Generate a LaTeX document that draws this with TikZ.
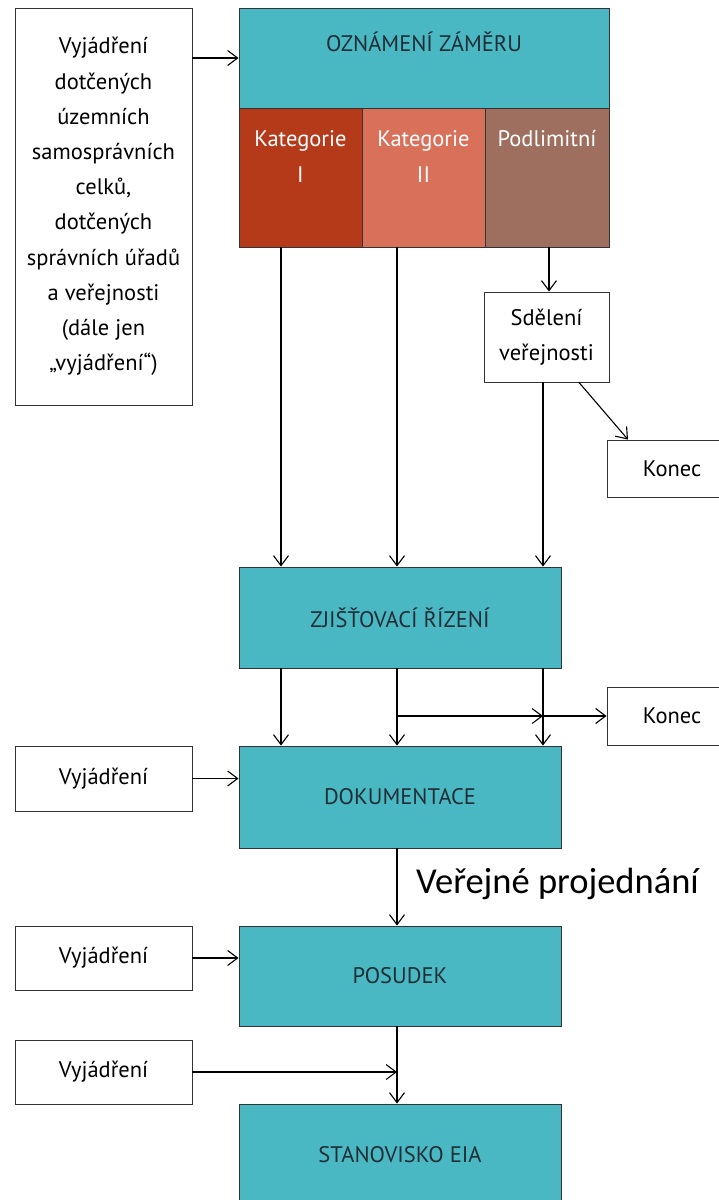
\documentclass[tikz,border=0pt]{standalone}
\usepackage{fontspec}
\setmainfont{PT Sans}
\newfontfamily\calibrifont{Carlito}
\usetikzlibrary{arrows.meta}

\definecolor{eiateal}{HTML}{4AB8C3}
\definecolor{katI}{HTML}{B43A1A}
\definecolor{katII}{HTML}{D8705A}
\definecolor{katIII}{HTML}{9E6F5E}
\definecolor{tealtext}{HTML}{1F2E36}

\tikzset{
    box/.style={draw=black!80, line width=0.9pt, align=center, inner sep=0pt, font=\fontsize{22.5}{35.2}\selectfont},
    whitebox/.style={box, fill=white},
    tealbox/.style={box, fill=eiateal, text=tealtext},
    catbox/.style={box, text=white},
    toptext/.style={anchor=north, align=center, inner sep=0pt, font=\fontsize{22.5}{35.5}\selectfont},
    arr/.style={-{Straight Barb[length=10pt,width=15pt]}, line width=1.1pt},
}

\begin{document}
\begin{tikzpicture}[x=1pt, y=-1pt]
    \useasboundingbox (0,0) rectangle (719,1200);

    % columns of the flow
    \coordinate (c1) at (281,0);
    \coordinate (c2) at (397,0);
    \coordinate (c3) at (543,0);

    % left inputs
    \begin{scope}[every node/.style={whitebox, minimum width=177pt}]
        \node[minimum height=397pt] (vyjtop) at (103.5,206.5) {Vyjádření\\dotčených\\územních\\samosprávních\\celků,\\dotčených\\správních úřadů\\a veřejnosti\\(dále jen\\„vyjádření“)};
        \node[minimum height=65pt] (vyjdok) at (103.5,778.5) {Vyjádření};
        \node[minimum height=64pt] (vyjpos) at (103.5,958) {Vyjádření};
        \node[minimum height=64pt] (vyjstan) at (103.5,1072) {Vyjádření};
    \end{scope}

    % main steps
    \node[tealbox, minimum width=370pt, minimum height=100pt,
          label={[toptext, text=tealtext, yshift=-24pt]north:OZNÁMENÍ ZÁMĚRU}] (ozn) at (424,58) {};
    \node[catbox, fill=katI, minimum width=123pt, minimum height=139pt,
          label={[toptext, text=white, yshift=-23pt]north:Kategorie\\I}] (kat1) at (300.5,177.5) {};
    \node[catbox, fill=katII, minimum width=123pt, minimum height=139pt,
          label={[toptext, text=white, yshift=-23pt]north:Kategorie\\II}] (kat2) at (423.5,177.5) {};
    \node[catbox, fill=katIII, minimum width=124pt, minimum height=139pt,
          label={[toptext, text=white, yshift=-23pt]north:Podlimitní}] (kat3) at (547,177.5) {};

    \node[whitebox, minimum width=125pt, minimum height=90pt] (sdel) at (546.5,337) {Sdělení\\veřejnosti};
    \node[whitebox, minimum width=130pt, minimum height=57pt] (konec1) at (672,468.5) {Konec};
    \node[whitebox, minimum width=130pt, minimum height=58pt] (konec2) at (672,716) {Konec};

    \begin{scope}[every node/.style={tealbox, minimum width=322pt}]
        \node[minimum height=101pt] (zjis) at (400,617.5) {ZJIŠŤOVACÍ ŘÍZENÍ};
        \node[minimum height=102pt] (dok) at (400,797) {DOKUMENTACE};
        \node[minimum height=100pt] (posudek) at (400,976) {POSUDEK};
        \node[minimum height=102pt] (stan) at (400,1155) {STANOVISKO EIA};
    \end{scope}

    \node[anchor=west, inner sep=0pt, font=\calibrifont\fontsize{36.5}{40}\selectfont] (verejne) at (416,884) {Veřejné projednání};

    % connectors
    \draw[arr] (vyjtop.east |- ozn.west) -- (ozn.west);
    \draw[arr] (kat1.south -| c1) -- (zjis.north -| c1);
    \draw[arr] (kat2.south -| c2) -- (zjis.north -| c2);
    \draw[arr] (kat3.south -| 549,0) -- (sdel.north -| 549,0);
    \draw[arr] (sdel.south -| c3) -- (zjis.north -| c3);
    \draw[arr] (sdel.south -| 579,0) -- (konec1.north -| 628,0);

    \draw[arr] (zjis.south -| c1) -- (dok.north -| c1);
    \draw[arr] (zjis.south -| c2) -- (dok.north -| c2);
    \draw[arr] (zjis.south -| c3) -- (dok.north -| c3);
    \draw[arr] (c2 |- konec2.west) -- (c3 |- konec2.west);
    \draw[arr] (c3 |- konec2.west) -- (konec2.west);

    \draw[arr] (vyjdok.east) -- (vyjdok.east -| dok.west);
    \draw[arr] (dok.south -| c2) -- (posudek.north -| c2);
    \draw[arr] (vyjpos.east) -- (vyjpos.east -| posudek.west);
    \draw[arr] (posudek.south -| c2) -- (stan.north -| c2);
    \draw[arr] (vyjstan.east) -- (vyjstan.east -| c2);
\end{tikzpicture}
\end{document}
